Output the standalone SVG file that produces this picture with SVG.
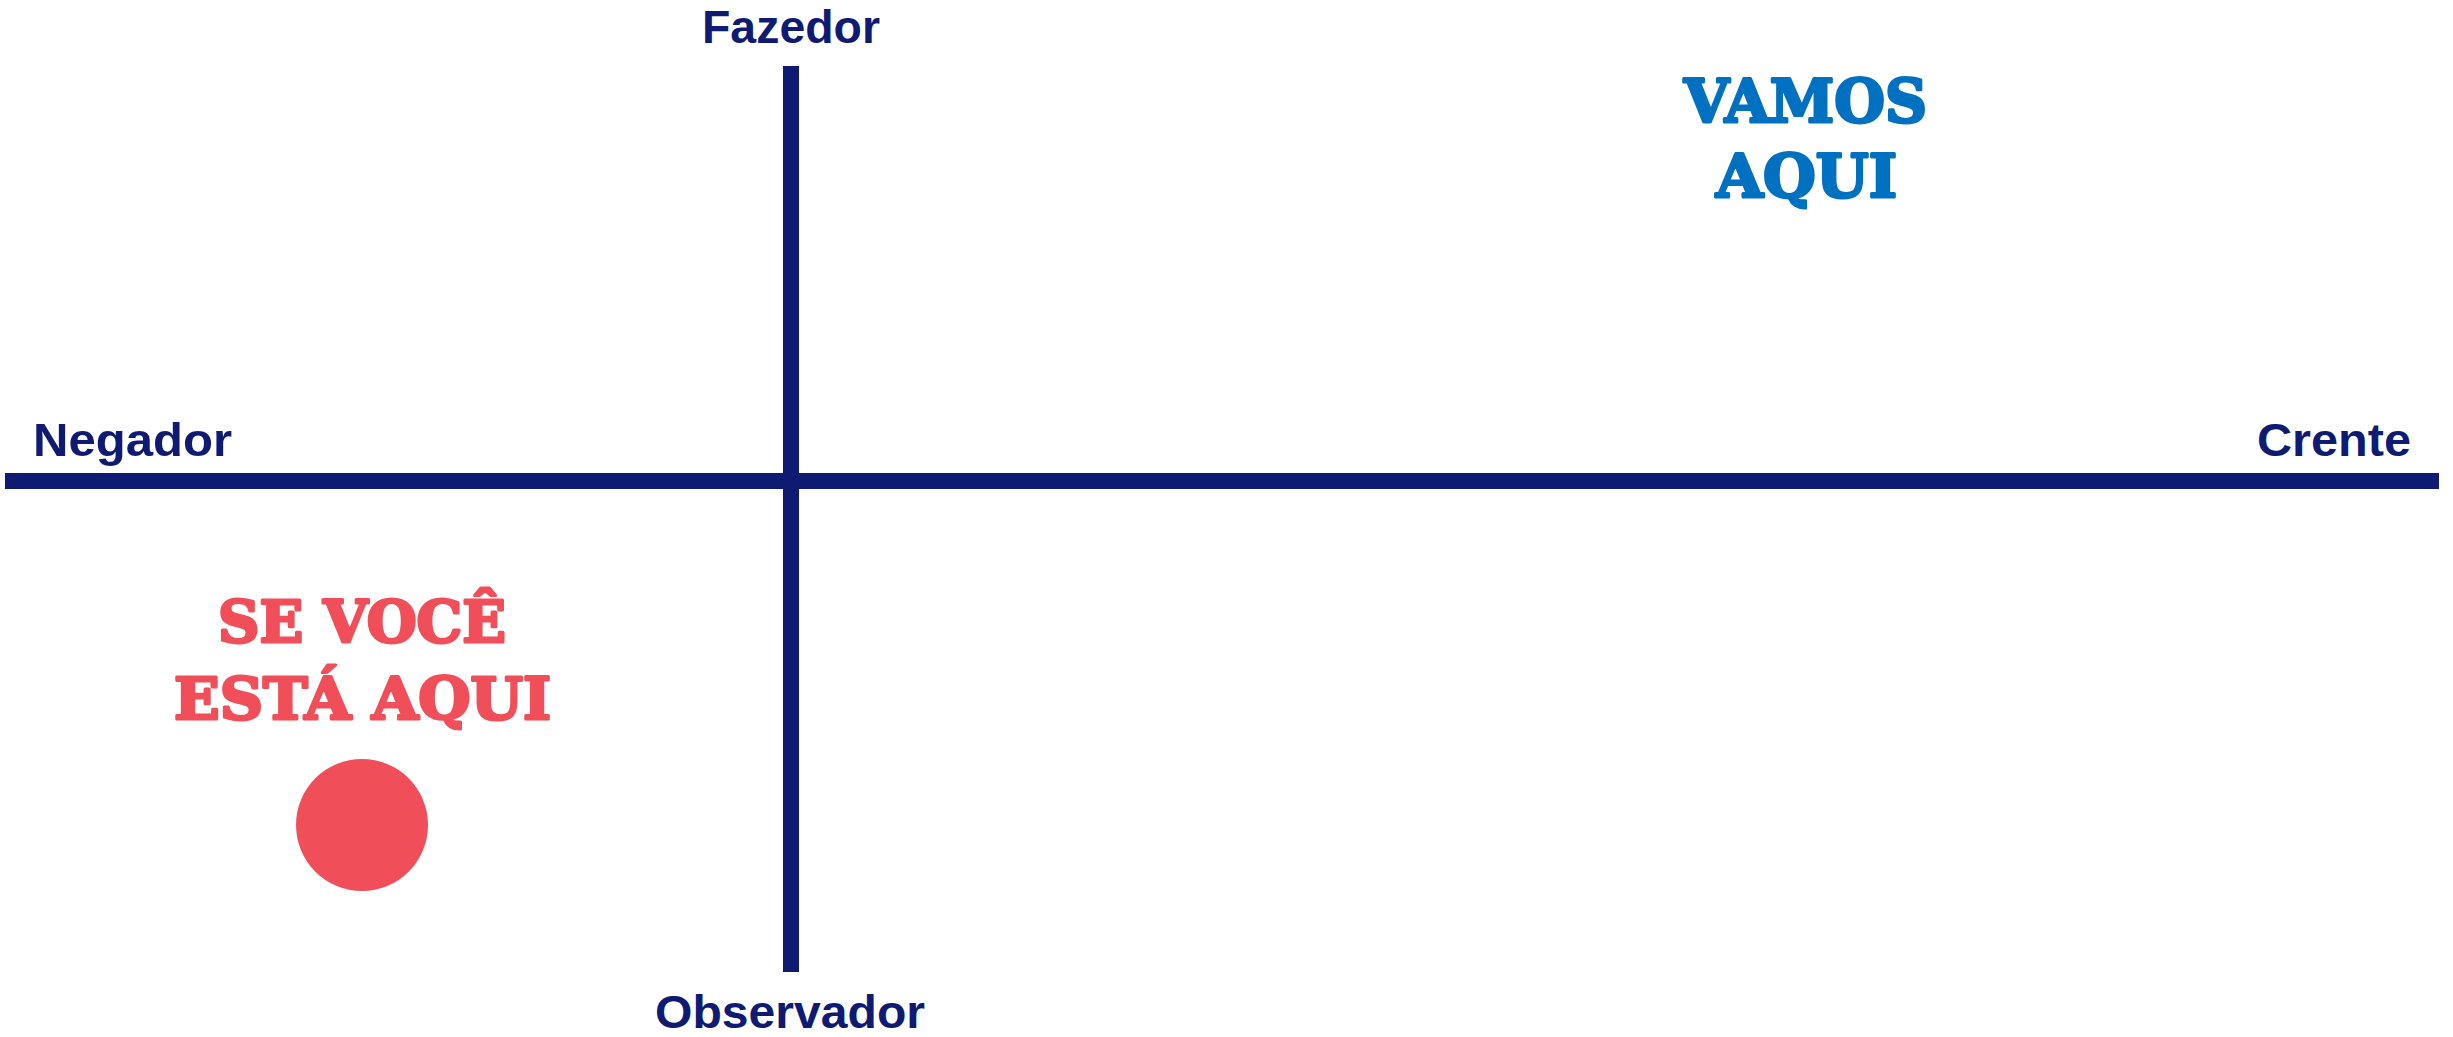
<svg xmlns="http://www.w3.org/2000/svg" width="2453" height="1037" viewBox="0 0 2453 1037">
  <style>
    .axis { fill: #0F1A73; }
    .lbl { font-family: "Liberation Sans", Arial, sans-serif; font-weight: bold; font-size: 47px; fill: #0F1A73; }
    .big { font-family: "DejaVu Serif", "Liberation Serif", serif; font-weight: bold; text-anchor: middle; stroke-width: 3px; stroke-linejoin: round; }
    .red { fill: #F04F5A; stroke: #F04F5A; }
    .blue { fill: #0070C0; stroke: #0070C0; }
    .dot { fill: #F04F5A; }
  </style>
  <rect width="2453" height="1037" fill="#FFFFFF"/>
  <g id="connectors">
    <rect class="axis" x="5" y="473" width="2434" height="16"/>
    <rect class="axis" x="783" y="66" width="16" height="906"/>
  </g>
  <g id="fazedor">
    <text class="lbl" x="702" y="43" textLength="178" lengthAdjust="spacingAndGlyphs">Fazedor</text>
  </g>
  <g id="negador">
    <text class="lbl" x="33" y="456" textLength="199" lengthAdjust="spacingAndGlyphs">Negador</text>
  </g>
  <g id="crente">
    <text class="lbl" x="2257" y="456" textLength="154" lengthAdjust="spacingAndGlyphs">Crente</text>
  </g>
  <g id="observador">
    <text class="lbl" x="655" y="1028" textLength="270" lengthAdjust="spacingAndGlyphs">Observador</text>
  </g>
  <g id="voce-aqui">
    <text class="big red" x="362" y="642" font-size="58" textLength="288" lengthAdjust="spacingAndGlyphs">SE VOCÊ</text>
    <text class="big red" x="362.5" y="719" font-size="58" textLength="377" lengthAdjust="spacingAndGlyphs">ESTÁ AQUI</text>
    <circle class="dot" cx="362" cy="825" r="66"/>
  </g>
  <g id="vamos-aqui">
    <text class="big blue" x="1805.5" y="122" font-size="60" textLength="243" lengthAdjust="spacingAndGlyphs">VAMOS</text>
    <text class="big blue" x="1806.5" y="197" font-size="60" textLength="181" lengthAdjust="spacingAndGlyphs">AQUI</text>
  </g>
</svg>
